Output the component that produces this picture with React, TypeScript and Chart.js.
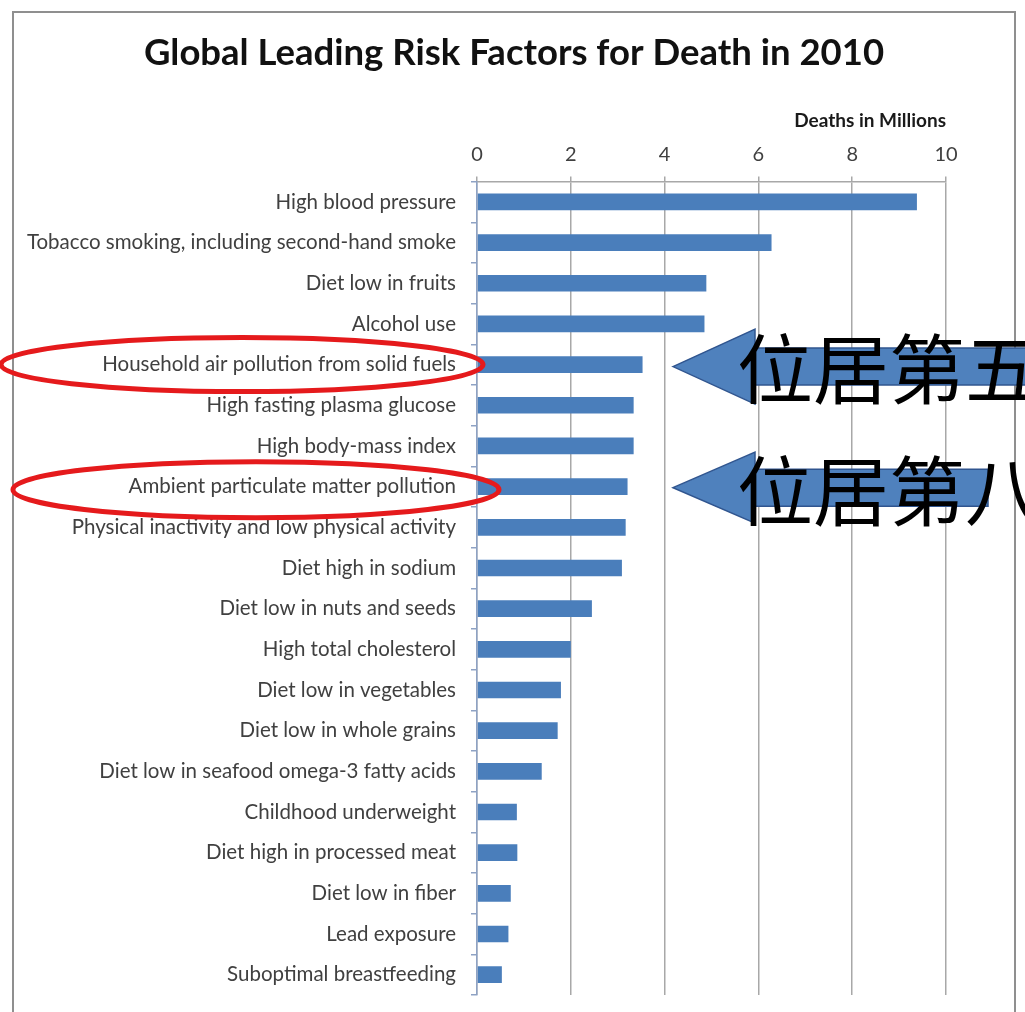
import React, { useEffect, useRef } from "react";
import { Chart, registerables } from "chart.js";

Chart.register(...registerables);

const chartTitle = "Global Leading Risk Factors for Death in 2010";
const axisTitle = "Deaths in Millions";

const categories = [
  "High blood pressure",
  "Tobacco smoking, including second-hand smoke",
  "Diet low in fruits",
  "Alcohol use",
  "Household air pollution from solid fuels",
  "High fasting plasma glucose",
  "High body-mass index",
  "Ambient particulate matter pollution",
  "Physical inactivity and low physical activity",
  "Diet high in sodium",
  "Diet low in nuts and seeds",
  "High total cholesterol",
  "Diet low in vegetables",
  "Diet low in whole grains",
  "Diet low in seafood omega-3 fatty acids",
  "Childhood underweight",
  "Diet high in processed meat",
  "Diet low in fiber",
  "Lead exposure",
  "Suboptimal breastfeeding",
];

const deaths = [
  9.38, 6.28, 4.89, 4.85, 3.53, 3.34, 3.34, 3.21, 3.17, 3.09,
  2.45, 2.0, 1.79, 1.72, 1.38, 0.85, 0.86, 0.72, 0.67, 0.53,
];

const xTickValues = [0, 2, 4, 6, 8, 10];

const highlightedIndex = [4, 7];
const highlightNotes = ["位居第五", "位居第八"];

const BAR_COLOR = "#4a7ebb";

const annotatePlugin = {
  id: "annotate",
  beforeDraw(chart: any) {
    const ctx = chart.ctx;
    ctx.save();
    ctx.fillStyle = "#ffffff";
    ctx.fillRect(0, 0, chart.width, chart.height);
    ctx.restore();
  },
  afterDraw(chart: any) {
    const ctx = chart.ctx;
    const yScale = chart.scales.y;
    ctx.save();
    // outer chart border
    ctx.strokeStyle = "#8f8f8f";
    ctx.lineWidth = 2;
    ctx.strokeRect(13, 12, 1002, 1100);

    // chart title, centred on the framed chart box
    ctx.fillStyle = "#111111";
    ctx.font = 'bold 36.5px "Lato"';
    ctx.textAlign = "center";
    ctx.textBaseline = "middle";
    ctx.fillText(chartTitle, 514, 53);

    // arrows with notes
    highlightedIndex.forEach((idx, i) => {
      const cy = yScale.getPixelForValue(idx) + (i === 0 ? 2 : 1);
      const tipX = 673;
      const headX = 755;
      const headH = i === 0 ? 37.5 : 35.5;
      const shaftH = 18.5;
      const endX = i === 0 ? 1040 : 988;
      ctx.beginPath();
      ctx.moveTo(tipX, cy);
      ctx.lineTo(headX, cy - headH);
      ctx.lineTo(headX, cy - shaftH);
      ctx.lineTo(endX, cy - shaftH);
      ctx.lineTo(endX, cy + shaftH);
      ctx.lineTo(headX, cy + shaftH);
      ctx.lineTo(headX, cy + headH);
      ctx.closePath();
      ctx.fillStyle = "#4f81bd";
      ctx.fill();
      ctx.strokeStyle = "#30558f";
      ctx.lineWidth = 1.5;
      ctx.stroke();

      ctx.fillStyle = "#000000";
      ctx.font = '76px "Noto Sans CJK SC"';
      ctx.textBaseline = "middle";
      ctx.textAlign = "left";
      ctx.fillText(highlightNotes[i], 737, cy + 3);
    });

    // red ellipses round highlighted labels
    ctx.strokeStyle = "#e51a1c";
    ctx.lineWidth = 5;
    highlightedIndex.forEach((idx, i) => {
      const cy = yScale.getPixelForValue(idx) + (i === 0 ? 0 : 3);
      const cx = i === 0 ? 242 : 256;
      const rx = i === 0 ? 241 : 243;
      const ry = i === 0 ? 27 : 28;
      ctx.beginPath();
      ctx.ellipse(cx, cy, rx, ry, 0, 0, Math.PI * 2);
      ctx.stroke();
    });
    ctx.restore();
  },
};

function RiskChart() {
  const canvasRef = useRef<HTMLCanvasElement | null>(null);

  useEffect(() => {
    if (!canvasRef.current) return;
    const chart = new Chart(canvasRef.current, {
      type: "bar",
      data: {
        labels: categories,
        datasets: [
          {
            label: axisTitle,
            data: deaths,
            backgroundColor: BAR_COLOR,
            borderWidth: 0,
            barPercentage: 0.82,
            categoryPercentage: 0.5,
          },
        ],
      },
      plugins: [annotatePlugin],
      options: {
        indexAxis: "y",
        animation: false,
        responsive: false,
        devicePixelRatio: 1,
        layout: { padding: { top: 109.8, left: 0, right: 79, bottom: 17 } },
        plugins: {
          legend: { display: false },
          tooltip: { enabled: false },
          title: { display: false },
        },
        scales: {
          x: {
            position: "top",
            min: 0,
            max: 10,
            afterBuildTicks: (scale: any) => {
              scale.ticks = xTickValues.map((v) => ({ value: v }));
            },
            afterFit: (scale: any) => {
              scale.paddingLeft = 0;
              scale.paddingRight = 0;
            },
            ticks: {
              color: "#404040",
              font: { family: "Lato", size: 20 },
              padding: 10,
            },
            grid: {
              color: "#a8a8a8",
              lineWidth: 1.5,
              tickLength: 5,
              drawTicks: true,
            },
            border: { display: true, color: "#a8a8a8", width: 1.5 },
            title: {
              display: true,
              text: axisTitle,
              align: "end",
              color: "#1a1a1a",
              font: { family: "Lato", size: 19, weight: "bold", lineHeight: 1.2 },
              padding: { top: 0, bottom: 0 },
            },
          },
          y: {
            position: "left",
            afterFit: (scale: any) => {
              scale.width = 477;
              scale.paddingTop = 0;
              scale.paddingBottom = 0;
            },
            ticks: {
              color: "#404040",
              font: { family: "Lato", size: 20.5 },
              padding: 15,
              autoSkip: false,
            },
            grid: {
              drawOnChartArea: false,
              drawTicks: true,
              tickLength: 6,
              color: "#8ea2c4",
              lineWidth: 1.5,
            },
            border: { display: true, color: "#8ea2c4", width: 1.5 },
          },
        },
      },
    } as any);
    return () => chart.destroy();
  }, []);

  return (
    <div
      style={{
        position: "fixed",
        left: 0,
        top: 0,
        width: 1025,
        height: 1012,
        background: "#ffffff",
        overflow: "hidden",
      }}
    >
      <canvas ref={canvasRef} width={1025} height={1012} style={{ display: "block" }} />
    </div>
  );
}

export default function App() {
  return <RiskChart />;
}
